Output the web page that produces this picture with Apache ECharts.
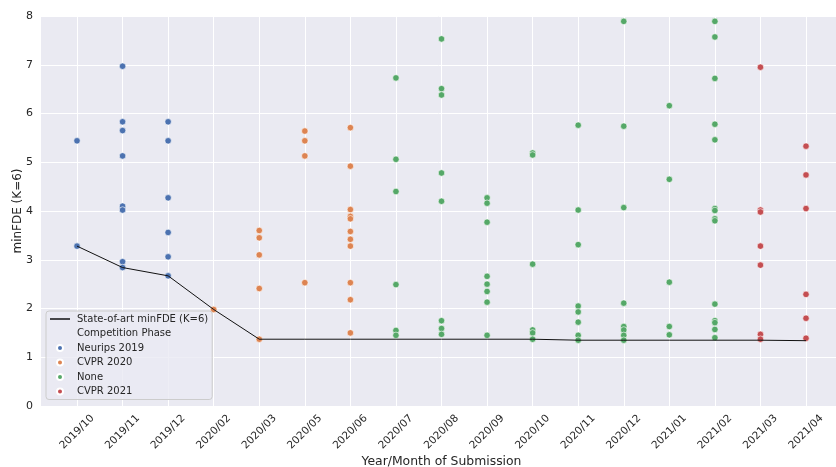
<!DOCTYPE html>
<html>
<head>
<meta charset="utf-8">
<script src="https://cdn.jsdelivr.net/npm/echarts@6/dist/echarts.min.js"></script>
<style>html,body{margin:0;padding:0;background:#fff}#c{width:836px;height:467px}</style>
</head>
<body>
<div id="c"></div>
<script>
const categories = ["2019/10","2019/11","2019/12","2020/02","2020/03","2020/05","2020/06","2020/07","2020/08","2020/09","2020/10","2020/11","2020/12","2021/01","2021/02","2021/03","2021/04"];
const yTicks = [0,1,2,3,4,5,6,7,8];

const neurips2019 = [
  ["2019/10",[5.44,3.28]],
  ["2019/11",[6.97,5.83,5.65,5.13,4.10,4.02,2.96,2.84]],
  ["2019/12",[5.83,5.44,4.27,3.56,3.06,2.67]]
];
const cvpr2020 = [
  ["2020/02",[1.98]],
  ["2020/03",[3.60,3.45,3.10,2.41,1.37]],
  ["2020/05",[5.64,5.44,5.13,2.53]],
  ["2020/06",[5.71,4.92,4.03,3.89,3.84,3.58,3.42,3.28,2.53,2.18,1.50]]
];
const nonePhase = [
  ["2020/07",[6.73,5.06,4.40,2.49,1.55,1.45]],
  ["2020/08",[7.53,6.51,6.38,4.78,4.20,1.75,1.59,1.47]],
  ["2020/09",[4.27,4.16,3.77,2.66,2.50,2.35,2.13,1.45]],
  ["2020/10",[5.19,5.15,2.91,1.56,1.50,1.37]],
  ["2020/11",[5.76,4.02,3.31,2.05,1.93,1.72,1.45,1.35]],
  ["2020/12",[7.89,5.74,4.07,2.11,1.63,1.56,1.45,1.35]],
  ["2021/01",[6.16,4.65,2.54,1.63,1.46]],
  ["2021/02",[7.89,7.57,6.72,5.78,5.46,4.05,4.01,3.84,3.80,2.09,1.75,1.71,1.57,1.40]]
];
const cvpr2021 = [
  ["2021/03",[6.95,4.02,3.98,3.28,2.89,1.47,1.37]],
  ["2021/04",[5.33,4.74,4.05,2.29,1.80,1.39]]
];
const stateOfArt = [3.28,2.84,2.67,1.98,1.37,1.37,1.37,1.37,1.37,1.37,1.37,1.35,1.35,1.35,1.35,1.35,1.34];

const phaseNames = ["Neurips 2019","CVPR 2020","None","CVPR 2021"];
const phaseColors = ["#4c72b0","#dd8452","#55a868","#c44e52"];
const phaseData = [neurips2019, cvpr2020, nonePhase, cvpr2021];

function toPoints(groups){
  const out = [];
  groups.forEach(([cat, vals]) => {
    const i = categories.indexOf(cat);
    vals.forEach(v => out.push([i, v]));
  });
  return out;
}

const font = "DejaVu Sans";
const txt = "#262626";

const chart = echarts.init(document.getElementById('c'), null, {renderer:'canvas'});
const series = [];
phaseNames.forEach((n, k) => {
  series.push({
    name: n, type: 'scatter', xAxisIndex: 1, yAxisIndex: 1,
    data: toPoints(phaseData[k]), symbol: 'circle', symbolSize: 6.5,
    itemStyle: {color: phaseColors[k], borderColor: '#fff', borderWidth: 0.6, opacity: 1},
    clip: false, z: 3, silent: true
  });
});
series.push({
  name: "State-of-art minFDE (K=6)", type: 'line', xAxisIndex: 1, yAxisIndex: 1,
  data: stateOfArt.map((v, i) => [i, v]), showSymbol: false, symbol: 'none',
  lineStyle: {color: '#111', width: 1}, itemStyle: {color: '#111'}, z: 4, silent: true
});
series.push({
  name: "Competition Phase", type: 'scatter', xAxisIndex: 1, yAxisIndex: 1, data: []
});

chart.setOption({
  animation: false,
  backgroundColor: '#fff',
  textStyle: {fontFamily: font},
  grid: [
    {left: 41, right: 0, top: 16, bottom: 61, show: true, backgroundColor: '#eaeaf2', borderWidth: 0,
     containLabel: false, outerBoundsMode: 'none'},
    {left: 77, right: 30, top: 16, bottom: 61, containLabel: false, outerBoundsMode: 'none'}
  ],
  xAxis: [
    {type: 'value', gridIndex: 0, min: 0, max: 1, show: false},
    {type: 'value', gridIndex: 1, min: 0, max: categories.length - 1, interval: 1,
     axisLine: {show: false}, axisTick: {show: false},
     splitLine: {show: true, lineStyle: {color: '#fff', width: 1}},
     axisLabel: {rotate: 45, margin: 26, fontSize: 10.5, color: txt, fontFamily: font,
       align: 'center', verticalAlign: 'middle', hideOverlap: false,
       formatter: v => categories[v] || ''},
     name: 'Year/Month of Submission', nameLocation: 'middle', nameGap: 50, nameMoveOverlap: false,
     nameTextStyle: {fontSize: 12.4, color: txt, fontFamily: font}}
  ],
  yAxis: [
    {type: 'value', gridIndex: 0, min: yTicks[0], max: yTicks[yTicks.length-1], interval: 1,
     axisLine: {show: false}, axisTick: {show: false},
     splitLine: {show: true, lineStyle: {color: '#fff', width: 1}},
     axisLabel: {fontSize: 11, color: txt, margin: 8, fontFamily: font},
     name: 'minFDE (K=6)', nameLocation: 'middle', nameGap: 17, nameMoveOverlap: false,
     nameTextStyle: {fontSize: 12, color: txt, fontFamily: font}},
    {type: 'value', gridIndex: 1, min: 0, max: 8, interval: 1, show: false, splitLine: {show: false}}
  ],
  legend: {
    orient: 'vertical', left: 46, top: 311,
    padding: [2, 4, 2, 4], itemGap: 2.5, itemWidth: 20, itemHeight: 6,
    backgroundColor: 'rgba(234,234,242,0.8)', borderColor: '#cccccc', borderWidth: 1, borderRadius: 3,
    selectedMode: false,
    textStyle: {fontSize: 10, color: txt, fontFamily: font, lineHeight: 12, padding: [0,0,0,2]},
    data: [
      {name: "State-of-art minFDE (K=6)", icon: 'path://M0,2.3L20,2.3L20,3.7L0,3.7Z', itemStyle: {color: '#000', borderWidth: 0, opacity: 1}},
      {name: "Competition Phase", icon: 'none'},
      {name: "Neurips 2019", icon: 'circle'},
      {name: "CVPR 2020", icon: 'circle'},
      {name: "None", icon: 'circle'},
      {name: "CVPR 2021", icon: 'circle'}
    ]
  },
  series: series
});
</script>
</body>
</html>
